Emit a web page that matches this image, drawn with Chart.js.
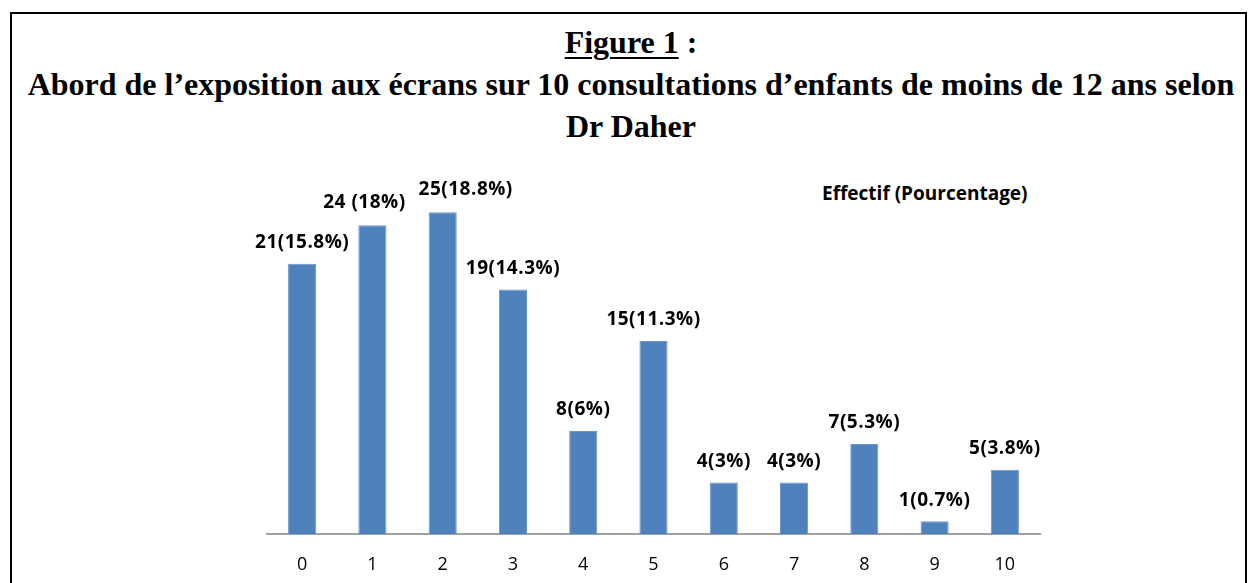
<!DOCTYPE html>
<html>
<head>
    <title>Figure 1</title>
    <script src="https://cdn.jsdelivr.net/npm/chart.js"></script>
    <style>
        body {
            margin: 0;
            background: #fff;
        }
        .page {
            position: relative;
            width: 1248px;
            height: 583px;
            overflow: hidden;
        }
        .frame {
            position: absolute;
            left: 10px;
            top: 12px;
            width: 1233px;
            height: 600px;
            border: 2px solid #000;
        }
        .title {
            position: absolute;
            left: 7px;
            width: 1248px;
            text-align: center;
            font-family: "Liberation Serif", "Times New Roman", serif;
            font-weight: bold;
            font-size: 32px;
            line-height: 42px;
            color: #000;
            white-space: nowrap;
        }
        .title u {
            text-underline-offset: 4px;
            text-decoration-thickness: 2px;
        }
        .legend {
            position: absolute;
            left: 822px;
            top: 180px;
            font-family: "Open Sans", sans-serif;
            font-weight: bold;
            font-size: 19px;
            color: #000;
            white-space: nowrap;
        }
        canvas {
            position: absolute;
            left: 0;
            top: 0;
        }
    </style>
</head>
<body>
    <div class="page">
        <div class="frame"></div>
        <div class="title" style="top: 21px;"><u>Figure 1</u> :</div>
        <div class="title" style="top: 63px;">Abord de l’exposition aux écrans sur 10 consultations d’enfants de moins de 12 ans selon</div>
        <div class="title" style="top: 105px;">Dr Daher</div>
        <div class="legend">Effectif (Pourcentage)</div>
        <div style="position:absolute; left:0; top:0; width:1248px; height:583px;">
            <canvas id="barChart"></canvas>
        </div>
    </div>

    <script>
        // Number of consultations where screen exposure was discussed
        const categories = ['0', '1', '2', '3', '4', '5', '6', '7', '8', '9', '10'];
        const counts = [21, 24, 25, 19, 8, 15, 4, 4, 7, 1, 5];
        const valueLabels = ['21(15.8%)', '24 (18%)', '25(18.8%)', '19(14.3%)', '8(6%)', '15(11.3%)',
                             '4(3%)', '4(3%)', '7(5.3%)', '1(0.7%)', '5(3.8%)'];

        // Draw the "count(percent)" text above every bar
        // (labels of bars 1 and 2 are pushed apart so they don't collide, like in the original)
        const barLabels = {
            id: 'barLabels',
            afterDatasetsDraw(chart) {
                const nudge = { 1: [-8, -2], 2: [23, -2] };
                const ctx = chart.ctx;
                const meta = chart.getDatasetMeta(0);
                ctx.save();
                ctx.font = 'bold 19px "Open Sans", sans-serif';
                ctx.letterSpacing = '0.5px';
                ctx.fillStyle = '#000';
                ctx.textAlign = 'center';
                ctx.textBaseline = 'middle';
                meta.data.forEach((bar, i) => {
                    const [dx, dy] = nudge[i] || [0, 0];
                    ctx.fillText(valueLabels[i], bar.x + dx, bar.y - 21 + dy);
                });
                ctx.restore();
            }
        };

        const ctx = document.getElementById('barChart').getContext('2d');
        const barChart = new Chart(ctx, {
            type: 'bar',
            data: {
                labels: categories,
                datasets: [{
                    label: 'Effectif (Pourcentage)',
                    data: counts,
                    backgroundColor: '#4F81BD',
                    borderColor: '#6b95c8',
                    borderWidth: 1,
                    barPercentage: 0.4,
                    categoryPercentage: 1.0
                }]
            },
            options: {
                responsive: true,
                maintainAspectRatio: false,
                animation: false,
                layout: {
                    padding: { top: 148, left: 267, right: 208, bottom: 0 }
                },
                scales: {
                    x: {
                        grid: { display: false },
                        border: { display: true, color: '#a0a0a0', width: 2 },
                        ticks: {
                            color: '#000',
                            padding: 12,
                            font: { family: '"Open Sans", sans-serif', size: 18 }
                        },
                        afterFit: scale => { scale.height = 49; }
                    },
                    y: {
                        display: false,
                        min: 0,
                        max: 30
                    }
                },
                plugins: {
                    legend: { display: false },
                    tooltip: { enabled: false }
                }
            },
            plugins: [barLabels]
        });
    </script>
</body>
</html>
